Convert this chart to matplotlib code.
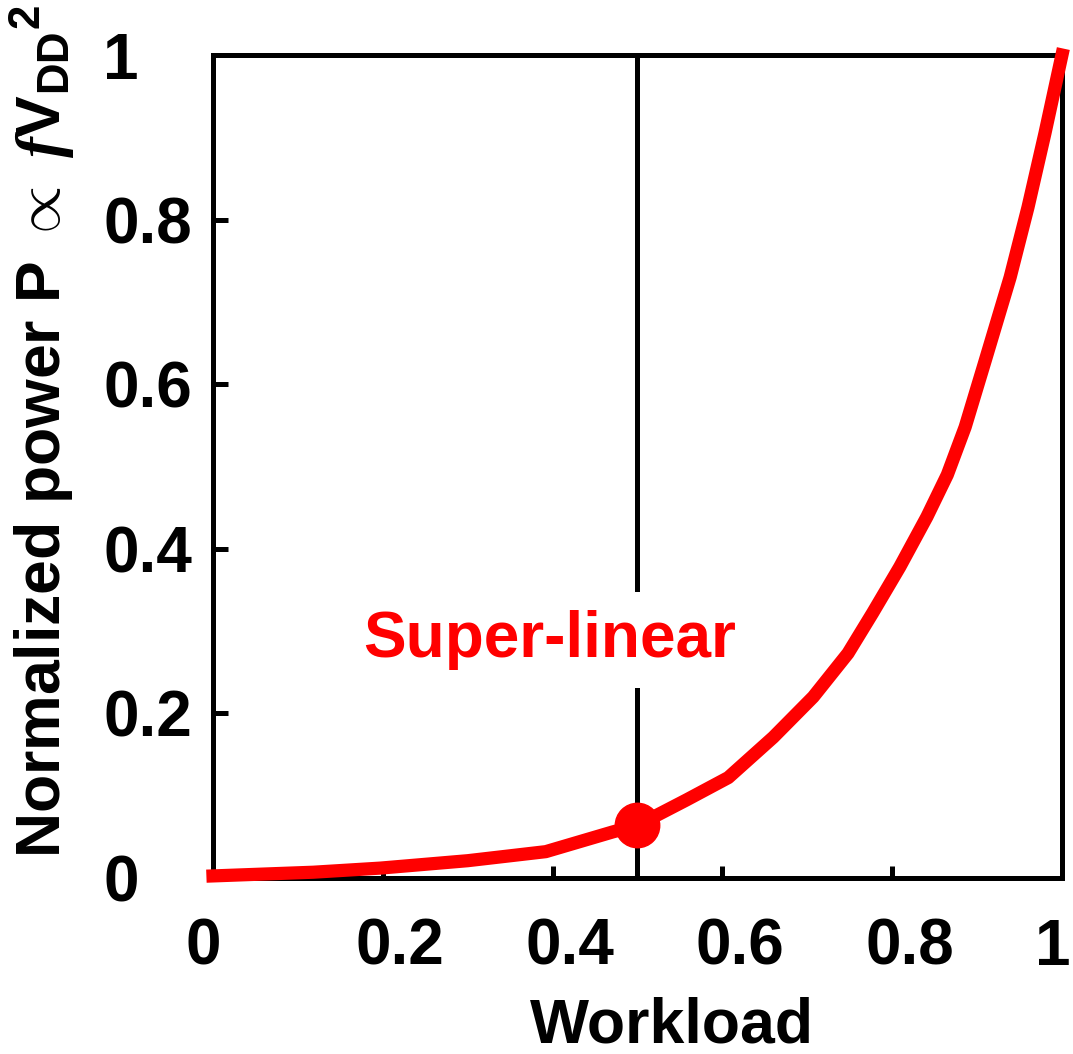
import matplotlib
matplotlib.use("Agg")
import matplotlib.pyplot as plt
from matplotlib.transforms import ScaledTranslation

# values
workload = [0.0, 0.118, 0.197, 0.30, 0.392, 0.471, 0.50, 0.558, 0.607, 0.66,
            0.707, 0.748, 0.777, 0.809, 0.841, 0.865, 0.886, 0.91, 0.939, 0.960,
            0.980, 1.0]
power = [0.0025, 0.007, 0.012, 0.021, 0.032, 0.056, 0.064, 0.095, 0.122, 0.171,
         0.22, 0.273, 0.322, 0.378, 0.439, 0.49, 0.548, 0.63, 0.73, 0.815,
         0.905, 1.0]
marker_x = [0.5]
marker_y = [0.064]
ref_x = 0.5
tick_vals = [0, 0.2, 0.4, 0.6, 0.8, 1]
tick_text = ["0", "0.2", "0.4", "0.6", "0.8", "1"]

plt.rcParams["font.family"] = ["Liberation Sans", "DejaVu Sans"]
plt.rcParams["font.weight"] = "bold"
plt.rcParams["mathtext.fontset"] = "custom"
plt.rcParams["mathtext.rm"] = "Liberation Sans:bold"
plt.rcParams["mathtext.bf"] = "Liberation Sans:bold"
plt.rcParams["mathtext.it"] = "Liberation Serif:italic"

RED = "#ff0000"
TICK_FS = 46

fig = plt.figure(figsize=(10.73, 10.54), dpi=100)
ax = fig.add_axes([0.1985, 0.1670, 0.7912, 0.7808])

ax.axvline(ref_x, color="black", lw=3.6, zorder=1)
ax.plot(workload, power, color=RED, lw=9.5, solid_joinstyle="round",
        clip_on=False, zorder=3)
ax.plot(marker_x, marker_y, "o", color=RED, ms=32, clip_on=False, zorder=4)

ax.text(0.397, 0.289, "Super-linear", color=RED, fontsize=46, fontweight="bold",
        ha="center", va="center", zorder=2,
        bbox=dict(fc="white", ec="none", pad=13))

ax.set_xlim(0, 1)
ax.set_ylim(0, 1)
for s in ax.spines.values():
    s.set_linewidth(3.6)

ax.set_xticks(tick_vals)
ax.set_xticklabels([])
ax.set_yticks(tick_vals)
ax.set_yticklabels(tick_text, fontsize=TICK_FS, fontweight="bold", ha="left")
ax.tick_params(axis="both", direction="in", width=3.6)
ax.tick_params(axis="x", length=8.5)
ax.tick_params(axis="y", length=10.5, pad=79)

# x tick labels sit left-aligned a little before each tick
off = ScaledTranslation(-0.27, -0.87, fig.dpi_scale_trans)
for v, t in zip(tick_vals, tick_text):
    ax.text(v, 0, t, transform=ax.get_xaxis_transform() + off,
            fontsize=TICK_FS, fontweight="bold", ha="left", va="baseline")

ax.set_xlabel("Workload", fontsize=45, fontweight="bold", va="baseline")
ax.xaxis.set_label_coords(0.541, -0.200)
ax.set_ylabel(r"Normalized power P $\propto$ $\mathit{f}$V$_\mathrm{DD}$$^\mathrm{2}$",
              fontsize=45, fontweight="bold", va="center")
ax.yaxis.set_label_coords(-0.201, 0.543)

fig.savefig("out.png", dpi=100)
